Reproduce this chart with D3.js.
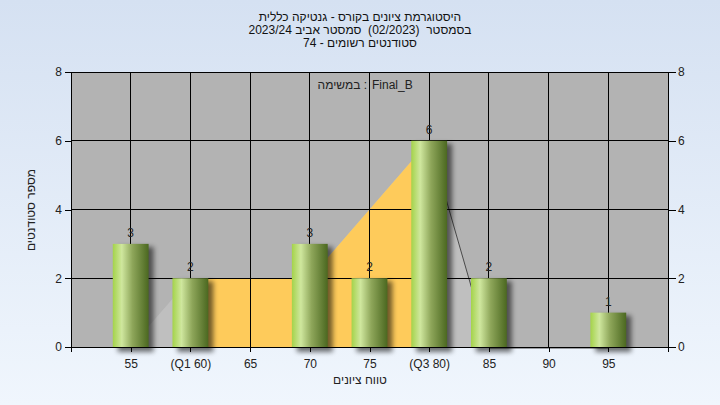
<!DOCTYPE html>
<html><head><meta charset="utf-8">
<script src="https://cdn.jsdelivr.net/npm/d3@7"></script>
<style>html,body{margin:0;padding:0;}svg{display:block;}</style>
</head><body>
<script>
// ---- data ----
const categories = [55, 60, 65, 70, 75, 80, 85, 90, 95];
const tickLabels = ["55", "(Q1 60)", "65", "70", "75", "(Q3 80)", "85", "90", "95"];
const counts = [3, 2, 0, 3, 2, 6, 2, 0, 1];
const areaValues = [0, 2, 2, 2, 4, 6, 0, 0, 0];
const q1 = 60, q3 = 80;
const yTicks = [0, 2, 4, 6, 8];
const titleLines = ["היסטוגרמת ציונים בקורס - גנטיקה כללית", "בסמסטר  (02/2023)  סמסטר אביב 2023/24", "סטודנטים רשומים - 74"];
const legendLabel = "במשימה :";
const legendSeries = "Final_B";
const xTitle = "טווח ציונים";
const yTitle = "מספר סטודנטים";

const W = 720, H = 405;
const m = {l: 71, r: 52, t: 72, b: 58};
const font = "'Liberation Sans', 'DejaVu Sans', Arial, sans-serif";

const svg = d3.select("body").append("svg").attr("width", W).attr("height", H)
  .style("font-family", font);
const defs = svg.append("defs");
const bg = defs.append("linearGradient").attr("id", "bg").attr("x1", 0).attr("y1", 0).attr("x2", 0).attr("y2", 1);
bg.append("stop").attr("offset", "0%").attr("stop-color", "#d5e1f2");
bg.append("stop").attr("offset", "100%").attr("stop-color", "#f0f6fd");
const bar = defs.append("linearGradient").attr("id", "bar").attr("x1", 0).attr("y1", 0).attr("x2", 1).attr("y2", 0);
[["0%", "#a4d34a"], ["25%", "#cfe79e"], ["55%", "#8ea65a"], ["100%", "#4b6820"]].forEach(s =>
  bar.append("stop").attr("offset", s[0]).attr("stop-color", s[1]));
const f = defs.append("filter").attr("id", "sh").attr("x", "-50%").attr("y", "-50%").attr("width", "200%").attr("height", "200%");
f.append("feGaussianBlur").attr("stdDeviation", 2.5);

svg.append("rect").attr("width", W).attr("height", H).attr("fill", "url(#bg)");

const x = d3.scaleLinear().domain([50, 100]).range([m.l, W - m.r]);
const y = d3.scaleLinear().domain([0, 8]).range([H - m.b, m.t]);

// plot background
svg.append("rect").attr("x", x(50)).attr("y", y(8)).attr("width", x(100) - x(50)).attr("height", y(0) - y(8)).attr("fill", "#b3b3b3");

// area (light gray full, orange between Q1 and Q3)
const pts = categories.map((c, i) => ({x: c, v: areaValues[i]}));
const area = d3.area().x(d => x(d.x)).y0(y(0)).y1(d => y(d.v));
svg.append("path").datum(pts).attr("d", area).attr("fill", "#bfbfbf");
svg.append("path").datum(pts.filter(d => d.x >= q1 && d.x <= q3)).attr("d", area).attr("fill", "#fecb5b");
svg.append("path").datum(pts.filter(d => d.x >= q3)).attr("d", d3.line().x(d => x(d.x)).y(d => y(d.v) + (d.v === 0 ? 1 : 0)))
  .attr("fill", "none").attr("stroke", "#4a4a4a").attr("stroke-width", 1);

// grid
const g = svg.append("g").attr("stroke", "#000").attr("stroke-width", 1).attr("shape-rendering", "crispEdges");
yTicks.forEach(t => g.append("line").attr("x1", x(50)).attr("x2", x(100)).attr("y1", y(t)).attr("y2", y(t)));
[50].concat(categories, [100]).forEach(c => g.append("line").attr("x1", x(c)).attr("x2", x(c)).attr("y1", y(8)).attr("y2", y(0)));

// bars
const bw = (x(55) - x(50)) * 0.6;
const data = categories.map((c, i) => ({c, v: counts[i]})).filter(d => d.v > 0);
svg.append("g").selectAll("rect").data(data).join("rect")
  .attr("x", d => x(d.c) - bw / 2 + 5).attr("y", d => y(d.v) + 3).attr("width", bw).attr("height", d => y(0) - y(d.v) + 2)
  .attr("fill", "#000").attr("opacity", 0.55).attr("filter", "url(#sh)");
svg.append("g").selectAll("rect").data(data).join("rect")
  .attr("x", d => x(d.c) - bw / 2).attr("y", d => y(d.v)).attr("width", bw).attr("height", d => y(0) - y(d.v))
  .attr("fill", "url(#bar)");
svg.append("g").selectAll("text").data(data).join("text")
  .attr("x", d => x(d.c)).attr("y", d => y(d.v) - 7).attr("text-anchor", "middle")
  .attr("font-size", 12).attr("fill", "#222").text(d => d.v);

// axes
const axL = d3.axisLeft(y).tickValues(yTicks).tickSize(6).tickPadding(3);
const axR = d3.axisRight(y).tickValues(yTicks).tickSize(8).tickPadding(2);
const axB = d3.axisBottom(x).tickValues([50].concat(categories, [100])).tickSize(5).tickPadding(7)
  .tickFormat(v => { const i = categories.indexOf(v); return i >= 0 ? tickLabels[i] : ""; });
function style(sel) {
  sel.select(".domain").remove();
  sel.selectAll("line").attr("stroke", "#000").attr("shape-rendering", "crispEdges");
  sel.selectAll("text").attr("font-size", 12).attr("fill", "#222").style("font-family", font);
}
svg.append("g").attr("transform", `translate(${x(50)},0)`).call(axL).call(style);
svg.append("g").attr("transform", `translate(${x(100)},0)`).call(axR).call(style);
svg.append("g").attr("transform", `translate(0,${y(0)})`).call(axB).call(style);

// titles
svg.append("g").selectAll("text").data(titleLines).join("text")
  .attr("x", 360).attr("y", (d, i) => 21 + i * 13).attr("text-anchor", "middle")
  .attr("direction", "rtl").style("unicode-bidi", "embed").style("white-space", "pre")
  .attr("font-size", 12).attr("fill", "#111").text(d => d);
svg.append("text").attr("x", 367).attr("y", 89).attr("text-anchor", "end")
  .attr("font-size", 12).attr("fill", "#222").text(legendLabel);
svg.append("text").attr("x", 372).attr("y", 89).attr("text-anchor", "start")
  .attr("font-size", 12).attr("fill", "#222").text(legendSeries);
svg.append("text").attr("x", 360).attr("y", 384).attr("text-anchor", "middle")
  .attr("font-size", 12).attr("fill", "#222").text(xTitle);
svg.append("text").attr("transform", "translate(35,210) rotate(-90)").attr("text-anchor", "middle")
  .attr("font-size", 12).attr("fill", "#222").text(yTitle);
</script>
</body></html>
